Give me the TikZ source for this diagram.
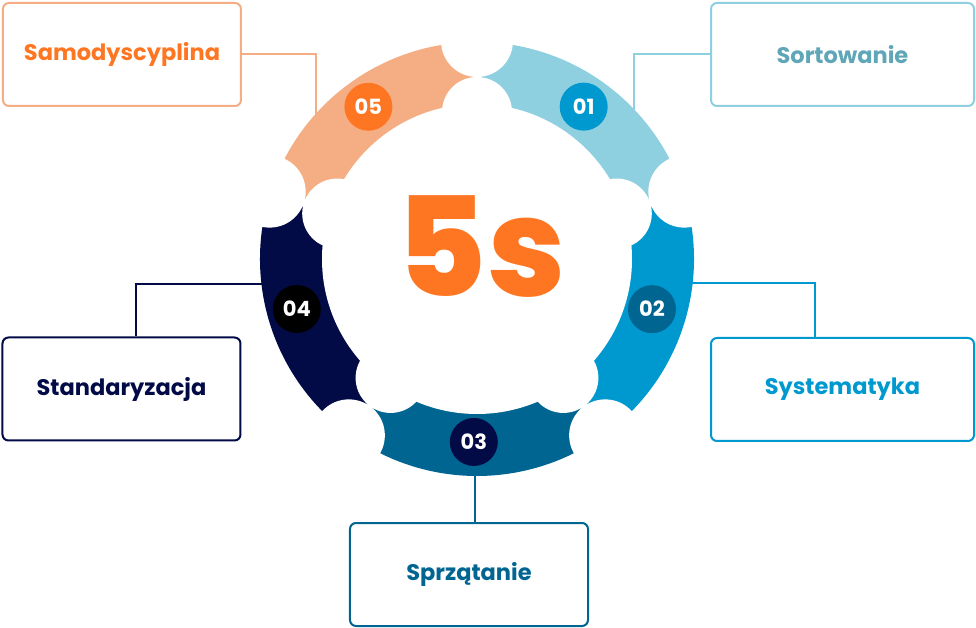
\documentclass[tikz,border=0pt]{standalone}
\usepackage{fontspec}
\setmainfont{Poppins}
\newfontfamily\heavyfont{Poppins ExtraBold}
\definecolor{peach}{HTML}{F5AE84}
\definecolor{orangefive}{HTML}{FF7622}
\definecolor{sky}{HTML}{8ECFE0}
\definecolor{skytext}{HTML}{5FA6B8}
\definecolor{azure}{HTML}{0099CF}
\definecolor{petrol}{HTML}{006591}
\definecolor{navy}{HTML}{030B47}

\begin{document}
\begin{tikzpicture}[x=1pt, y=1pt, txtbox/.style={draw, line width=2pt, rounded corners=6pt, minimum height=103pt, font=\bfseries\fontsize{22.5}{26}\selectfont}, numdot/.style={circle, minimum size=48pt, inner sep=0pt, text=white, font=\bfseries\fontsize{21}{25}\selectfont}, wire/.style={line width=2pt}]
            \useasboundingbox (-477,-369) rectangle (499,259);
            \node[txtbox, draw=peach, text=orangefive, minimum width=238pt] (s5) at (-355,204.5) {Samodyscyplina};
            \node[txtbox, draw=sky, text=skytext, minimum width=263pt] (s1) at (365.5,204.5) {Sortowanie};
            \node[txtbox, draw=azure, text=azure, minimum width=263pt] (s2) at (365.5,-130.5) {Systematyka};
            \node[txtbox, draw=petrol, text=petrol, minimum width=238pt] (s3) at (-8,-315.5) {Sprzątanie};
            \node[txtbox, draw=navy, text=navy, minimum width=238pt] (s4) at (-355.5,-130) {Standaryzacja};
            \coordinate (c1) at (157,140); \coordinate (c2) at (205,-24); \coordinate (c3) at (-2,-205); \coordinate (c4) at (-205,-25); \coordinate (c5) at (-161,136);
            \draw[wire, peach] (s5.east) -| (c5);
            \draw[wire, sky] (s1.west) -| (c1);
            \draw[wire, azure] (c2) -| ([xshift=-27.5pt]s2.north);
            \draw[wire, petrol] (c3) -- (c3 |- s3.north);
            \draw[wire, navy] ([xshift=14.5pt]s4.north) |- (c4);
            % ring
            \foreach \a/\c in {18/sky, -54/azure, -126/petrol, 162/navy, 90/peach}
                \fill[\c] (0,0) -- (\a:217) arc[start angle=\a, delta angle=72, radius=217] -- cycle;
            \fill[white] (0,0) circle (155);
            \foreach \a in {90,18,-54,-126,162}
                \fill[white] (\a:218) circle (36) (\a:147) circle (35);
            \node[numdot, fill=azure] (n1) at (55:186) {01}; \node[numdot, fill=petrol] (n2) at (-16:182) {02}; \node[numdot, fill=navy] (n3) at (-91:183) {03};
            \node[numdot, fill=black] (n4) at (195.5:187) {04}; \node[numdot, fill=orangefive] (n5) at (125.5:187) {05};
            \node[text=orangefive, inner sep=0pt, font=\heavyfont\fontsize{138}{138}\selectfont] (title) at (4,12) {5s};
        \end{tikzpicture}
\end{document}
